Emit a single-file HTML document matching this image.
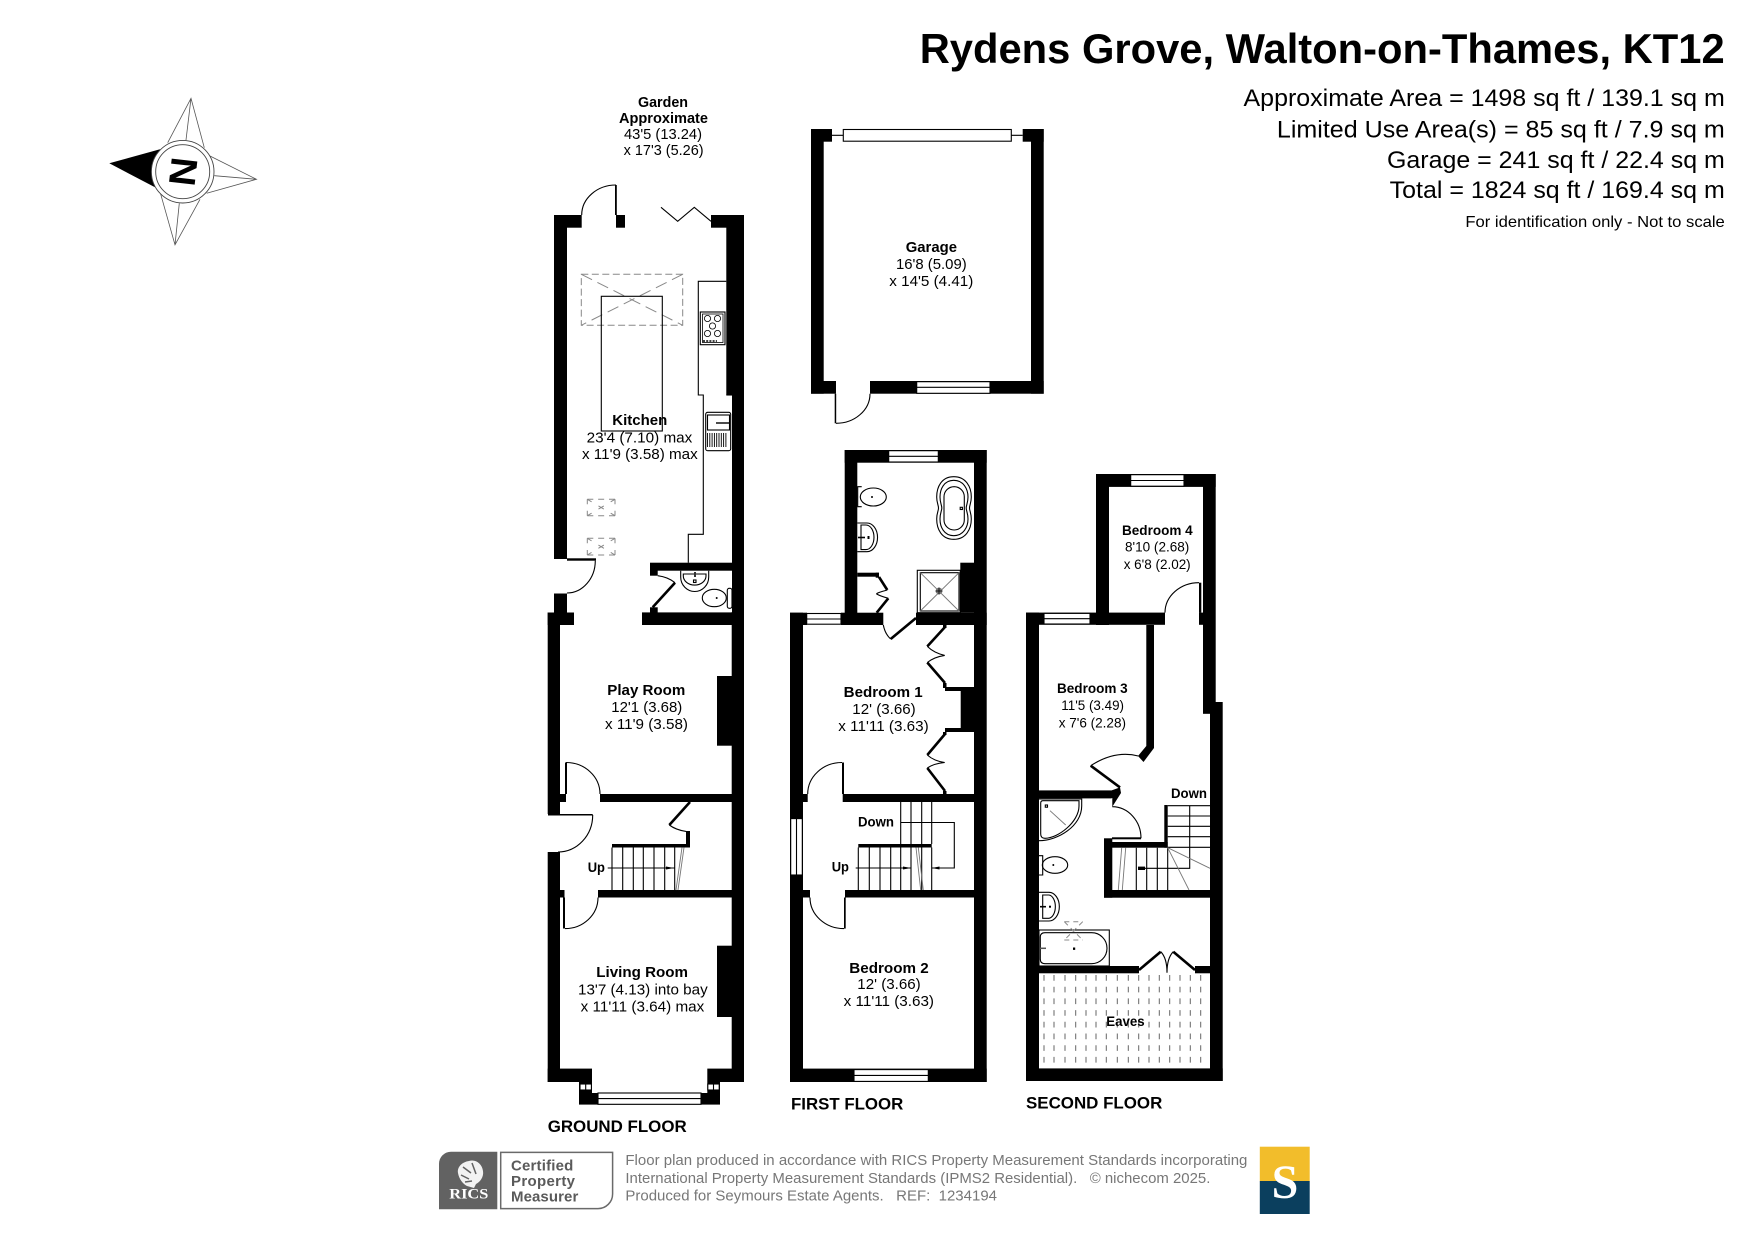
<!DOCTYPE html>
<html><head><meta charset="utf-8"><title>Rydens Grove floor plan</title>
<style>
html,body{margin:0;padding:0;background:#fff}
svg{display:block}
text{font-family:"Liberation Sans",sans-serif;fill:#000}
.b{font-weight:bold}
.l{font-size:15px}
.s{font-size:13.5px}
.fl{font-size:17px;font-weight:bold}
.ln{fill:none;stroke:#000;stroke-width:1.1}
.th{fill:none;stroke:#000;stroke-width:2.6}
.gr{fill:none;stroke:#777;stroke-width:.9}
.da{fill:none;stroke:#888;stroke-width:1;stroke-dasharray:7 3.5}
.w{fill:#fff;stroke:#000;stroke-width:1.1}
</style></head><body>
<svg xmlns="http://www.w3.org/2000/svg" width="1755" height="1241" viewBox="0 0 1755 1241">
<rect width="1755" height="1241" fill="#fff"/>

<!-- Heading -->
<text class="b" x="919.7" y="63" font-size="42" textLength="805" lengthAdjust="spacingAndGlyphs">Rydens Grove, Walton-on-Thames, KT12</text>
<text x="1243.5" y="106" font-size="24.5" textLength="481.3" lengthAdjust="spacingAndGlyphs">Approximate Area = 1498 sq ft / 139.1 sq m</text>
<text x="1276.9" y="137.7" font-size="24.5" textLength="447.9" lengthAdjust="spacingAndGlyphs">Limited Use Area(s) = 85 sq ft / 7.9 sq m</text>
<text x="1387" y="168" font-size="24.5" textLength="337.8" lengthAdjust="spacingAndGlyphs">Garage = 241 sq ft / 22.4 sq m</text>
<text x="1389.7" y="197.8" font-size="24.5" textLength="335.1" lengthAdjust="spacingAndGlyphs">Total = 1824 sq ft / 169.4 sq m</text>
<text x="1465.4" y="227" font-size="16" textLength="259.4" lengthAdjust="spacingAndGlyphs">For identification only - Not to scale</text>

<!-- Compass -->
<g>
<polygon points="109.3,163.3 160,149.3 155,187.3" fill="#000"/>
<g fill="none" stroke="#555" stroke-width=".8">
<path d="M167.7,142.7 L191,98.3 L204.3,147.7 M191,98.3 L186,140"/>
<path d="M210,156 L256.5,179.3 L206.7,193.3 M256.5,179.3 L214.3,175.7"/>
<path d="M160,191.7 L175,244.8 L200,199.3 M175,244.8 L179.3,203.3"/>
</g>
<circle cx="182.7" cy="171.7" r="31.3" fill="#fff" stroke="#444" stroke-width=".9"/>
<circle cx="182.7" cy="171.7" r="27" fill="#fff" stroke="#444" stroke-width=".9"/>
<text class="b" x="0" y="0" font-size="36" text-anchor="middle" transform="translate(196,173) rotate(-83.5) scale(1.1,1.04)">N</text>
</g>

<!-- GARAGE -->
<g fill="#000">
<rect x="811" y="129" width="12.7" height="264.7"/>
<rect x="811" y="129" width="21" height="12.7"/>
<rect x="1022.7" y="129" width="21" height="12.7"/>
<rect x="1031" y="129" width="12.7" height="264.7"/>
<rect x="811" y="381" width="25" height="12.7"/>
<rect x="870" y="381" width="173.7" height="12.7"/>
<rect x="834.7" y="393.7" width="1.5" height="29.6"/>
</g>
<rect class="w" x="843.3" y="129.5" width="168" height="11.7"/>
<path class="ln" d="M832,135.3H843.3M1011.3,135.3H1022.7"/>
<rect class="w" x="916.7" y="381.7" width="73.3" height="11.6"/>
<path class="ln" d="M916.7,387.3H990"/>
<path class="ln" d="M836,423.3A34,29.6 0 0 0 870,393.7"/>
<text class="b l" x="905.7" y="252" textLength="51.3" lengthAdjust="spacingAndGlyphs">Garage</text>
<text class="l" x="896" y="269" textLength="70.7" lengthAdjust="spacingAndGlyphs">16'8 (5.09)</text>
<text class="l" x="889.3" y="286" textLength="84" lengthAdjust="spacingAndGlyphs">x 14'5 (4.41)</text>

<!-- GROUND FLOOR walls -->
<g fill="#000">
<rect x="554" y="215" width="13" height="344"/>
<rect x="554" y="215" width="27.7" height="12.7"/>
<rect x="616" y="215" width="9" height="12.7"/>
<rect x="615" y="185" width="1.8" height="30"/>
<rect x="711" y="215" width="33" height="12.7"/>
<rect x="726.3" y="215" width="17.7" height="180"/>
<rect x="732" y="395" width="12" height="230"/>
<rect x="567" y="558.3" width="29" height="2.4"/>
<rect x="554" y="593.5" width="13" height="20"/>
<rect x="547.7" y="612.5" width="26.3" height="12.5"/>
<rect x="642" y="612.4" width="102" height="12.6"/>
<rect x="650" y="562.7" width="82" height="8"/>
<rect x="650" y="570" width="7.7" height="5.7"/>
<rect x="650" y="607.3" width="7.7" height="5.5"/>
<rect x="547.7" y="612.5" width="12.3" height="201.5"/>
<rect x="547.7" y="852" width="12.3" height="230"/>
<rect x="548" y="814" width="44.7" height="1.5"/>
<rect x="731.7" y="612" width="12.3" height="470"/>
<rect x="547.7" y="1068.6" width="196.3" height="13.4"/>
<rect x="579" y="1082" width="141" height="22.6"/>
<rect x="717" y="676" width="15" height="69.7"/>
<rect x="717" y="945.7" width="15" height="71.3"/>
<rect x="600" y="794" width="132" height="8"/>
<rect x="598" y="890" width="134" height="7.5"/>
<rect x="560" y="794" width="6" height="8"/>
<rect x="560" y="890" width="4.5" height="7.5"/>
<rect x="565" y="762.5" width="2" height="31.5"/>
<rect x="563" y="897.5" width="2" height="31"/>
<rect x="612" y="844" width="78" height="3.5"/>
<rect x="686" y="831" width="4" height="16.5"/>
</g>
<!-- bay -->
<rect x="592" y="1068" width="115.3" height="25" fill="#fff"/>
<rect x="592" y="1082" width="6" height="11" fill="#fff"/>
<rect class="w" x="598" y="1093" width="103" height="11.3"/>
<path class="ln" d="M598,1098.6H701"/>
<rect class="w" x="580" y="1084" width="11.4" height="6"/>
<path class="ln" d="M585.7,1084V1090"/>
<rect class="w" x="707.8" y="1084" width="11.4" height="6"/>
<path class="ln" d="M713.5,1084V1090"/>
<!-- ground doors -->
<path class="ln" d="M581.7,215A34.3,30 0 0 1 616,185"/>
<path class="ln" d="M661,207.3L677.7,221.3L694.3,207.3L711,221.3"/>
<path class="ln" d="M595.3,560.7A28.5,32.5 0 0 1 567,593"/>
<path class="ln" d="M566,762.5A34,31.5 0 0 1 600,794"/>
<path class="ln" d="M565,928.6A33,31 0 0 0 598,897.5"/>
<path class="ln" d="M592.7,815A34.7,37 0 0 1 558,852"/>
<path class="th" d="M690,802L669.3,825"/>
<path class="ln" d="M669.3,825Q676,830 686,831.4"/>
<path class="ln" d="M657.7,575.7Q668,577 675,582.7"/>
<path class="th" d="M675,582.7L652.7,607.3"/>
<!-- kitchen fittings -->
<rect class="da" x="581.3" y="274.3" width="101.4" height="51"/>
<path class="da" style="stroke-dasharray:12 6" d="M581.3,274.3L682.7,325.3M682.7,274.3L581.3,325.3"/>
<rect class="ln" x="601.3" y="296.3" width="61" height="134.7"/>
<path class="ln" d="M726.3,281.3H698.3V395H703.3V534.3H688.3V562.7"/>
<path class="ln" d="M726.3,395H732"/>
<rect class="ln" x="700.3" y="312" width="24.7" height="32.7" stroke-width="1.4"/>
<rect class="ln" x="702.5" y="314" width="20.5" height="28.5" style="stroke-width:.8"/>
<g class="ln" style="stroke-width:.8"><circle cx="707.5" cy="318.5" r="3.1"/><circle cx="717.5" cy="318.5" r="3.1"/><circle cx="712.5" cy="326" r="3.1"/><circle cx="707.5" cy="333.5" r="3.1"/><circle cx="717.5" cy="333.5" r="3.1"/></g>
<path d="M703,341H717" stroke="#000" stroke-width="1.6" stroke-dasharray="2 1.2"/>
<rect class="ln" x="705.7" y="412.3" width="25" height="38.4" rx="2"/>
<rect class="ln" x="707.5" y="415" width="22" height="15"/>
<path d="M716,423H729" stroke="#000" stroke-width="1.4"/>
<g stroke="#000" stroke-width=".9"><path d="M707.5,433V447M709.8,433V447M712.1,433V447M714.4,433V447M716.7,433V447M719,433V447M721.3,433V447M723.6,433V447M725.9,433V447"/></g>
<g fill="none" stroke="#888" stroke-width="1">
<path stroke-dasharray="6 4.85 6 4.85 6" d="M587.3,499.3H615M587.3,515.7H615"/>
<path stroke-dasharray="5 6.4 5" d="M587.3,499.3V515.7M615,499.3V515.7"/>
<path stroke-dasharray="5 8 6.2 8 5" d="M587.3,499.3L615,515.7M615,499.3L587.3,515.7"/>
<path stroke-dasharray="6 4.85 6 4.85 6" d="M587.3,538.3H615M587.3,555H615"/>
<path stroke-dasharray="5 6.7 5" d="M587.3,538.3V555M615,538.3V555"/>
<path stroke-dasharray="5 8 6.4 8 5" d="M587.3,538.3L615,555M615,538.3L587.3,555"/>
</g>
<!-- WC -->
<path class="ln" d="M680.7,570.7V577A14,14.5 0 0 0 708.7,577V570.7"/>
<path class="ln" d="M683.3,574H706V576A11.3,9 0 0 1 683.3,576Z"/>
<rect class="ln" x="693.5" y="580" width="2.5" height="2.5"/><rect x="694" y="572" width="2" height="5" fill="#333"/>
<ellipse class="ln" cx="714.3" cy="598" rx="12" ry="8.7"/><circle cx="716.7" cy="598" r="1" fill="#000"/>
<rect class="ln" x="727.3" y="588.3" width="4.7" height="20" rx="2"/>
<!-- ground stairs -->
<path class="ln" d="M612,847.5V890M622.7,847.5V890M633.3,847.5V890M643.3,847.5V890M654,847.5V890M664.7,847.5V890M674.7,847.5V890"/>
<path class="ln" d="M607.7,868H674.7"/>
<polygon points="666,866.5 674,868 666,869.5" fill="#000"/>
<path class="gr" d="M684,847.5L678,890M682,847.5L676,890"/>

<!-- ground labels -->
<text class="b" x="638" y="107" font-size="14.5" textLength="50" lengthAdjust="spacingAndGlyphs">Garden</text>
<text class="b" x="619" y="123" font-size="14.5" textLength="89" lengthAdjust="spacingAndGlyphs">Approximate</text>
<text x="624" y="139" font-size="14.5" textLength="78" lengthAdjust="spacingAndGlyphs">43'5 (13.24)</text>
<text x="623.6" y="155" font-size="14.5" textLength="80" lengthAdjust="spacingAndGlyphs">x 17'3 (5.26)</text>
<text class="b l" x="612.3" y="425" textLength="55" lengthAdjust="spacingAndGlyphs">Kitchen</text>
<text class="l" x="586.7" y="442.3" textLength="105.6" lengthAdjust="spacingAndGlyphs">23'4 (7.10) max</text>
<text class="l" x="582" y="459" textLength="115.7" lengthAdjust="spacingAndGlyphs">x 11'9 (3.58) max</text>
<text class="b l" x="607.3" y="695" textLength="78" lengthAdjust="spacingAndGlyphs">Play Room</text>
<text class="l" x="611.3" y="712.1" textLength="71" lengthAdjust="spacingAndGlyphs">12'1 (3.68)</text>
<text class="l" x="605" y="729" textLength="83" lengthAdjust="spacingAndGlyphs">x 11'9 (3.58)</text>
<text class="b l" x="596.3" y="977.2" textLength="91.7" lengthAdjust="spacingAndGlyphs">Living Room</text>
<text class="l" x="578" y="994.3" textLength="129.7" lengthAdjust="spacingAndGlyphs">13'7 (4.13) into bay</text>
<text class="l" x="580.7" y="1011.4" textLength="123.6" lengthAdjust="spacingAndGlyphs">x 11'11 (3.64) max</text>
<text class="b s" x="587.7" y="872" textLength="17.3" lengthAdjust="spacingAndGlyphs">Up</text>
<text class="fl" x="547.7" y="1132" textLength="139" lengthAdjust="spacingAndGlyphs">GROUND FLOOR</text>

<!-- FIRST FLOOR walls -->
<g fill="#000">
<rect x="790" y="612.7" width="17" height="12.3"/>
<rect x="841" y="612.7" width="42.3" height="12.3"/>
<rect x="916" y="612.7" width="70.7" height="12.3"/>
<rect x="790" y="612.7" width="13" height="469.3"/>
<rect x="974" y="450" width="12.7" height="632"/>
<rect x="790" y="1068.6" width="196.7" height="13.4"/>
<rect x="844.7" y="450" width="12.6" height="175"/>
<rect x="844.7" y="450" width="142" height="12.7"/>
<rect x="960.3" y="562.7" width="14" height="50"/>
<rect x="960.7" y="687" width="13.3" height="45"/>
<rect x="945" y="687" width="16" height="4"/>
<rect x="945" y="728" width="16" height="4"/>
<rect x="842.7" y="794" width="131.3" height="8"/>
<rect x="803" y="794" width="4.7" height="8"/>
<rect x="842" y="762.5" width="2" height="31.5"/>
<rect x="845" y="890" width="129" height="7.5"/>
<rect x="803" y="890" width="7" height="7.5"/>
<rect x="844" y="897.5" width="1.7" height="31.1"/>
<rect x="857.3" y="572.7" width="21.7" height="4"/>
<rect x="875.7" y="572.7" width="3.3" height="5"/>
<rect x="858.3" y="844" width="73.4" height="3.5"/>
<rect x="943" y="625" width="3.5" height="3"/>
<rect x="943" y="683" width="3.5" height="5"/>
<rect x="943" y="732" width="3.5" height="3"/>
<rect x="943" y="791" width="3.5" height="3"/>
</g>
<!-- first windows -->
<rect class="w" x="806.7" y="613.5" width="34.3" height="10.7"/><path class="ln" d="M806.7,619H841"/>
<rect class="w" x="888.7" y="450.7" width="49.6" height="11.3"/><path class="ln" d="M888.7,456.3H938.3"/>
<rect class="w" x="854" y="1069.6" width="74.3" height="11.8"/><path class="ln" d="M854,1075.4H928.3"/>
<rect x="790.7" y="818.6" width="11.6" height="56.4" fill="#fff" stroke="#000" stroke-width="1.1"/><path class="ln" d="M796.5,818.6V875"/>
<!-- first doors -->
<path class="th" d="M916,618L890.7,639"/>
<path class="ln" d="M883.3,625Q885,634 890.7,639"/>
<path class="th" d="M945,627L927.3,646.4M927.3,662.5L945,683"/>
<path class="ln" d="M927.3,646.4Q934,653 944.7,655.4Q934,657 927.3,662.5"/>
<path class="th" d="M945,734L927.3,755M927.3,768L945,791"/>
<path class="ln" d="M927.3,755Q934,761 944.7,762.5Q934,763.5 927.3,768"/>
<path class="ln" d="M842,762.5A34.3,31.5 0 0 0 807.7,794"/>
<path class="ln" d="M844,928.6A34,31 0 0 1 810,897.5"/>
<path class="th" d="M879,577L887.3,590M888.3,598.3L876.7,612.7"/>
<path class="ln" d="M887.3,590Q876,593 876.7,594Q880,596 888.3,598.3"/>
<!-- first stairs -->
<path class="ln" d="M858.3,847.5V890M869.3,847.5V890M880,847.5V890M890.7,847.5V890M900.7,847.5V890M911,847.5V890M921.7,847.5V890M931.7,847.5V890"/>
<path class="ln" d="M900.7,802V844M911,802V844M921.7,802V844M931.7,802V844"/>
<path class="ln" d="M855.7,868H911M900.7,822.5H954.3V868H931.7"/>
<polygon points="903,866.5 911,868 903,869.5" fill="#000"/>
<polygon points="939.5,866.5 931.7,868 939.5,869.5" fill="#000"/>
<path class="gr" d="M916,847.5L920.7,890M918.3,847.5L923.3,890"/>
<!-- ensuite fittings -->
<rect class="ln" x="917.3" y="570.3" width="43" height="42.4" stroke-width="1.2"/>
<rect class="ln" x="920.3" y="572.7" width="38.7" height="38.3" stroke-width="1.4"/>
<path class="gr" d="M920.3,572.7L959,611M959,572.7L920.3,611"/>
<circle cx="939" cy="591" r="3.4" fill="#777"/><path d="M935.5,591H942.5M939,587.5V594.5" stroke="#000" stroke-width=".8"/>
<path class="ln" d="M861.7,486.7H857.7V506.7H861.7"/>
<ellipse class="ln" cx="873.3" cy="497" rx="13" ry="9"/><circle cx="872" cy="497" r="1" fill="#000"/>
<path class="ln" d="M857.3,523H867A10.5,14.3 0 0 1 867,551.7H857.3"/>
<path class="ln" d="M861,525H866A8,12.3 0 0 1 866,549.6H861Z"/>
<path d="M858,537.5H865" stroke="#000" stroke-width="1.6"/><rect x="867.5" y="536" width="2" height="3" fill="#000"/>
<!-- free-standing bath -->
<path class="ln" d="M953.8,476.7C966,476.7 971.3,487 971.3,497C971.3,503 969.5,505 969.5,508C969.5,511 971.3,513 971.3,519C971.3,529 966,539.3 953.8,539.3C941.5,539.3 936.7,529 936.7,519C936.7,513 938.5,511 938.5,508C938.5,505 936.7,503 936.7,497C936.7,487 941.5,476.7 953.8,476.7Z"/>
<path class="ln" d="M953.8,480.3C963.5,480.3 968,489 968,497C968,503 966.2,505 966.2,508C966.2,511 968,513 968,519C968,527 963.5,535.7 953.8,535.7C944,535.7 940,527 940,519C940,513 941.8,511 941.8,508C941.8,505 940,503 940,497C940,489 944,480.3 953.8,480.3Z"/>
<rect class="ln" x="944" y="486.7" width="20.3" height="43.3" rx="10.1"/>
<rect class="ln" x="960.2" y="507.3" width="2.2" height="2.2"/>
<!-- first labels -->
<text class="b l" x="843.7" y="697" textLength="79" lengthAdjust="spacingAndGlyphs">Bedroom 1</text>
<text class="l" x="852.3" y="714" textLength="63.4" lengthAdjust="spacingAndGlyphs">12' (3.66)</text>
<text class="l" x="838.3" y="731" textLength="90.4" lengthAdjust="spacingAndGlyphs">x 11'11 (3.63)</text>
<text class="b l" x="849.3" y="972.9" textLength="79.4" lengthAdjust="spacingAndGlyphs">Bedroom 2</text>
<text class="l" x="857.3" y="989" textLength="63.4" lengthAdjust="spacingAndGlyphs">12' (3.66)</text>
<text class="l" x="843.7" y="1006" textLength="90.3" lengthAdjust="spacingAndGlyphs">x 11'11 (3.63)</text>
<text class="b s" x="831.7" y="871.4" textLength="17.3" lengthAdjust="spacingAndGlyphs">Up</text>
<text class="b s" x="858" y="826.4" textLength="36" lengthAdjust="spacingAndGlyphs">Down</text>
<text class="fl" x="791" y="1109.6" textLength="112.3" lengthAdjust="spacingAndGlyphs">FIRST FLOOR</text>

<!-- SECOND FLOOR walls -->
<g fill="#000">
<rect x="1096" y="474" width="13" height="151"/>
<rect x="1096" y="474" width="119.7" height="12.9"/>
<rect x="1203" y="474" width="12.7" height="239.7"/>
<rect x="1026" y="612.6" width="139" height="12.2"/>
<rect x="1199" y="612.6" width="4" height="12.2"/>
<rect x="1199" y="582.7" width="2.3" height="30"/>
<rect x="1026" y="612.6" width="13" height="468.4"/>
<rect x="1210" y="702" width="12.7" height="379"/>
<rect x="1203" y="702" width="12.7" height="11.7"/>
<rect x="1026" y="1068.4" width="196.7" height="12.6"/>
<polygon points="1146.3,625 1154,625 1154,748 1143.5,762 1138,756 1146.3,746"/>
<rect x="1039" y="790.4" width="72.7" height="8"/>
<polygon points="1104,798 1112.3,798 1112.3,806.7 1121,793 1120,787.4 1111.7,790.4 1104,798"/>
<rect x="1104" y="838.3" width="8.3" height="59.4"/>
<rect x="1112" y="837.3" width="29" height="2"/>
<rect x="1112" y="842" width="55.7" height="5.7"/>
<rect x="1164.3" y="805" width="3.4" height="42.7"/>
<rect x="1104" y="890" width="106" height="7.7"/>
<rect x="1026" y="966" width="113" height="7.3"/>
<rect x="1195" y="966" width="15" height="7.3"/>
</g>
<rect class="w" x="1130.7" y="474.7" width="53.3" height="11.5"/><path class="ln" d="M1130.7,480.5H1184"/>
<rect class="w" x="1044" y="613.4" width="46" height="10.6"/><path class="ln" d="M1044,618.7H1090"/>
<!-- second doors -->
<path class="ln" d="M1165,612.6A34,30 0 0 1 1199,582.7"/>
<path class="ln" d="M1090.7,765.7Q1115,750 1138.3,756"/>
<path class="th" d="M1090.7,765.7L1120,787.4"/>
<path class="ln" d="M1112.3,806.7A29,31.5 0 0 1 1141,838.3"/>
<path class="th" d="M1139,970L1160.7,951.7M1195,970L1173.3,951.7"/>
<path class="ln" d="M1160.7,951.7Q1167,958 1167,972.7Q1167,958 1173.3,951.7"/>
<!-- second stairs -->
<path class="ln" d="M1167.7,805.7H1210M1167.7,816H1210M1167.7,826.3H1210M1167.7,836.7H1210M1167.7,847.3H1210"/>
<path class="ln" d="M1189.7,805.7V868.3H1138.3"/>
<polygon points="1138,866.6 1145,866.6 1145,870 1138,870" fill="#000"/>
<path class="ln" d="M1136.3,847.7V890M1146.7,847.7V890M1157.3,847.7V890M1167.7,847.7V890"/>
<path class="gr" d="M1167.7,847.7L1210,868.3M1167.7,847.7L1189,890"/>
<path class="gr" d="M1121.7,847.7L1118.3,890M1125.7,847.7L1122.3,890"/>
<!-- second bath fittings -->
<path class="ln" d="M1039,799H1081.7V806C1081.7,826 1058,840.7 1039,840.7"/>
<path class="ln" d="M1043,800.7H1079V806C1079,822 1058,838.3 1045,838.3Q1040.7,838.3 1040.7,834V803Q1040.7,800.7 1043,800.7Z"/>
<rect class="ln" x="1045.3" y="805" width="2.2" height="2.2"/>
<path class="gr" d="M1050,810.7L1065.7,825"/>
<path class="ln" d="M1039,855.7H1042.7V875H1039"/>
<ellipse class="ln" cx="1055" cy="865" rx="12.7" ry="8.3"/><circle cx="1053.3" cy="865" r="1" fill="#000"/>
<path class="ln" d="M1039,892.3H1049A10.3,14.3 0 0 1 1049,921H1039"/>
<path class="ln" d="M1042.7,895H1049A7,11.7 0 0 1 1049,918.3H1042.7Z"/>
<path d="M1040,906.7H1046" stroke="#000" stroke-width="1.6"/><rect x="1049" y="905.7" width="2" height="2" fill="#000"/>
<rect class="ln" x="1039" y="930" width="70.3" height="36"/>
<path class="ln" d="M1045,932.7H1091.7A15.3,15.5 0 0 1 1091.7,963.7H1045Q1040.3,963.7 1040.3,959V937Q1040.3,932.7 1045,932.7Z"/>
<rect x="1073" y="947.5" width="2.2" height="2.4" fill="#000"/>
<path d="M1040,948.3H1046" stroke="#555" stroke-width="1.5"/>
<path class="da" style="stroke-dasharray:5 4" d="M1064.3,921.7H1082.7M1064.3,940H1082.7M1064.3,921.7L1082.7,940M1082.7,921.7L1064.3,940"/>
<!-- eaves -->
<g stroke="#666" stroke-width="1" stroke-dasharray="5.7 6"><path d="M1044,975V1068M1054,975V1068M1065,975V1068M1075.7,975V1068M1086,975V1068M1096,975V1068M1106.3,975V1068M1117.3,975V1068M1128.3,975V1068M1138.7,975V1068M1149,975V1068M1159.3,975V1068M1169.7,975V1068M1180,975V1068M1190.3,975V1068M1200.7,975V1068"/></g>
<!-- second labels -->
<text class="b s" x="1122" y="535" textLength="70.7" lengthAdjust="spacingAndGlyphs">Bedroom 4</text>
<text class="s" x="1125" y="551.5" textLength="64.3" lengthAdjust="spacingAndGlyphs">8'10 (2.68)</text>
<text class="s" x="1123.7" y="568.8" textLength="67" lengthAdjust="spacingAndGlyphs">x 6'8 (2.02)</text>
<text class="b s" x="1057" y="692.8" textLength="70.7" lengthAdjust="spacingAndGlyphs">Bedroom 3</text>
<text class="s" x="1061.3" y="710.2" textLength="62.7" lengthAdjust="spacingAndGlyphs">11'5 (3.49)</text>
<text class="s" x="1058.7" y="727.6" textLength="67.3" lengthAdjust="spacingAndGlyphs">x 7'6 (2.28)</text>
<text class="b s" x="1171" y="798.2" textLength="36" lengthAdjust="spacingAndGlyphs">Down</text>
<text class="b s" x="1106.3" y="1026" textLength="38.4" lengthAdjust="spacingAndGlyphs">Eaves</text>
<text class="fl" x="1026" y="1108.7" textLength="136.3" lengthAdjust="spacingAndGlyphs">SECOND FLOOR</text>

<!-- Footer -->
<path d="M451,1151.7H497.3V1209.3H439V1163.7A12,12 0 0 1 451,1151.7Z" fill="#626262"/>
<path d="M469,1161C476,1159 482,1164 483,1171C484,1177 480,1182 476,1184L474,1188L467,1186C463,1184 459,1179 458,1173C457,1167 462,1162 469,1161Z" fill="#f2f2f2"/>
<path d="M463,1167L471,1173M461,1175L469,1179M472,1163L476,1174M465,1182L472,1181" stroke="#626262" stroke-width="1.5" fill="none"/>
<text x="449.3" y="1198.3" font-size="14.5" font-weight="bold" textLength="39" lengthAdjust="spacingAndGlyphs" style="font-family:'Liberation Serif',serif;fill:#fff">RICS</text>
<path d="M500.7,1152.4H612.6V1194A14.6,14.6 0 0 1 598,1208.6H500.7Z" fill="#fff" stroke="#6a6a6a" stroke-width="1.5"/>
<text class="b" x="511" y="1170.7" font-size="15" textLength="62.3" lengthAdjust="spacing" style="fill:#5a5a5a">Certified</text>
<text class="b" x="511" y="1186" font-size="15" textLength="64" lengthAdjust="spacing" style="fill:#5a5a5a">Property</text>
<text class="b" x="511" y="1201.7" font-size="15" textLength="67.3" lengthAdjust="spacing" style="fill:#5a5a5a">Measurer</text>
<text x="625.4" y="1164.8" font-size="15" textLength="622" lengthAdjust="spacingAndGlyphs" style="fill:#777">Floor plan produced in accordance with RICS Property Measurement Standards incorporating</text>
<text x="625.4" y="1182.8" font-size="15" textLength="585" lengthAdjust="spacingAndGlyphs" style="fill:#777">International Property Measurement Standards (IPMS2 Residential).&#160;&#160;&#160;©&#160;nichecom 2025.</text>
<text x="625.4" y="1200.5" font-size="15" textLength="371.6" lengthAdjust="spacingAndGlyphs" style="fill:#777">Produced for Seymours Estate Agents.&#160;&#160;&#160;REF:&#160;&#160;1234194</text>
<rect x="1259.8" y="1146.7" width="49.9" height="34.5" fill="#f2bd2b"/>
<rect x="1259.8" y="1181" width="49.9" height="33" fill="#0b3f5e"/>
<text x="1285" y="1198" font-size="48" font-weight="bold" text-anchor="middle" style="font-family:'Liberation Serif',serif;fill:#fff">S</text>
</svg>
</body></html>
